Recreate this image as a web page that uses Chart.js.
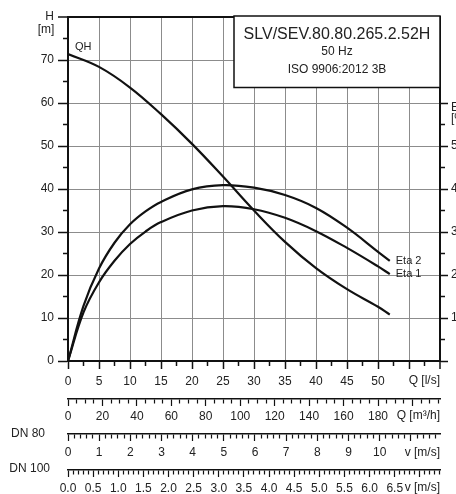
<!DOCTYPE html>
<html>
<head>
<meta charset="utf-8">
<script src="https://cdn.jsdelivr.net/npm/chart.js@4.4.1/dist/chart.umd.min.js"></script>
<style>
html,body{margin:0;padding:0;background:#fff;overflow:hidden}
canvas{display:block}
</style>
</head>
<body>
<canvas id="c" width="456" height="494"></canvas>
<script>
// ---- data ----
const flowQH  = [0, 5, 10, 15, 20, 25, 30, 35, 40, 45, 50, 51.9];
const headQH  = [71.4, 68.4, 63.6, 57.4, 50.5, 42.9, 35.0, 27.7, 21.6, 16.7, 12.6, 10.8];
const flowEta = [0, 2.5, 5, 7.5, 10, 12.5, 15, 20, 25, 30, 35, 40, 45, 50, 51.9];
const eta2    = [0, 12.8, 21.5, 27.5, 31.8, 34.8, 37.0, 39.9, 40.9, 40.3, 38.6, 35.6, 31.0, 25.4, 23.3];
const eta1    = [0, 11.3, 18.3, 23.3, 27.2, 30.1, 32.3, 35.0, 36.0, 35.3, 33.3, 30.2, 26.3, 22.0, 20.2];
const curveNames = ['QH', 'Eta 2', 'Eta 1'];
const titleLines = ['SLV/SEV.80.80.265.2.52H', '50 Hz', 'ISO 9906:2012 3B'];

// tick labels
const qLabels     = [0, 5, 10, 15, 20, 25, 30, 35, 40, 45, 50];
const hLabels     = [0, 10, 20, 30, 40, 50, 60, 70];
const etaLabels   = [10, 20, 30, 40, 50];
const m3hLabels   = [0, 20, 40, 60, 80, 100, 120, 140, 160, 180];
const vDN80Labels = [0, 1, 2, 3, 4, 5, 6, 7, 8, 9, 10];
const vDN100Labels = [0, 0.5, 1, 1.5, 2, 2.5, 3, 3.5, 4, 4.5, 5, 5.5, 6, 6.5];
const unitLabels  = ['Q [l/s]', 'Q [m³/h]', 'v [m/s]', 'DN 80', 'DN 100', 'H', '[m]', 'Eta', '[%]'];

// axis ranges / unit conversions
const flowMaxLs = 60;
const headMax = 80;
const m3hPerLs = 3.6;
const lsPerMsDN80 = Math.PI * 0.04 * 0.04 * 1000;
const lsPerMsDN100 = Math.PI * 0.0508 * 0.0508 * 1000;

// ---- styling helpers ----
const FONT = '"Liberation Sans", Arial, Helvetica, sans-serif';
const INK = '#111';
const TXT = '#222';
const GRID = '#8c8c8c';
const NONE = 'rgba(0,0,0,0)';
const tickFont = {family: FONT, size: 12};
function isMult(v, m) { return Math.abs(v / m - Math.round(v / m)) < 1e-6; }
function inList(list, v) { return list.some(l => Math.abs(l - v) < 1e-6); }

const pts = (xs, ys) => xs.map((x, i) => ({x: x, y: ys[i]}));

const annot = {
  id: 'annot',
  afterDraw(chart) {
    const {ctx, chartArea: a, scales} = chart;
    ctx.save();
    ctx.fillStyle = TXT;
    ctx.textBaseline = 'middle';
    ctx.font = '12px ' + FONT;
    // axis units
    ctx.textAlign = 'center';
    ctx.fillText(unitLabels[6], 46, a.top + 13);
    ctx.textAlign = 'right';
    ctx.fillText(unitLabels[0], a.right, scales.x.top + 20);
    ctx.fillText(unitLabels[1], a.right, scales.x2.top + 17);
    ctx.fillText(unitLabels[2], a.right, scales.x3.top + 19);
    ctx.fillText(unitLabels[2], a.right, scales.x4.top + 18);
    ctx.fillText(unitLabels[3], 45, scales.x3.top);
    ctx.fillText(unitLabels[4], 50, scales.x4.top - 1);
    ctx.textAlign = 'left';
    ctx.fillText(unitLabels[7], a.right + 11, 108);
    ctx.fillText(unitLabels[8], a.right + 11, 119);
    // curve labels
    ctx.font = '11px ' + FONT;
    const qh = chart.getDatasetMeta(0).data;
    const e2 = chart.getDatasetMeta(1).data;
    const e1 = chart.getDatasetMeta(2).data;
    ctx.fillText(curveNames[0], qh[0].x + 7, qh[0].y - 7);
    ctx.fillText(curveNames[1], e2[e2.length - 1].x + 6, e2[e2.length - 1].y);
    ctx.fillText(curveNames[2], e1[e1.length - 1].x + 6, e1[e1.length - 1].y);
    // title box
    const bx = a.right - 206, by = a.top - 1, bw = 206, bh = 71.5;
    ctx.fillStyle = '#fff';
    ctx.fillRect(bx, by, bw, bh);
    ctx.strokeStyle = INK;
    ctx.lineWidth = 1.5;
    ctx.strokeRect(bx, by, bw, bh);
    ctx.fillStyle = TXT;
    ctx.textAlign = 'center';
    const cx = bx + bw / 2;
    ctx.font = '16px ' + FONT;
    ctx.fillText(titleLines[0], cx, by + 19);
    ctx.font = '12px ' + FONT;
    ctx.fillText(titleLines[1], cx, by + 36);
    ctx.fillText(titleLines[2], cx, by + 53.5);
    ctx.restore();
  }
};

const lineStyle = {
  borderColor: INK, borderWidth: 2.2, pointRadius: 0, fill: false, tension: 0.4
};

new Chart(document.getElementById('c'), {
  type: 'line',
  data: {
    datasets: [
      Object.assign({label: curveNames[0], data: pts(flowQH, headQH), xAxisID: 'x', yAxisID: 'y'}, lineStyle),
      Object.assign({label: curveNames[1], data: pts(flowEta, eta2), xAxisID: 'x', yAxisID: 'y2'}, lineStyle),
      Object.assign({label: curveNames[2], data: pts(flowEta, eta1), xAxisID: 'x', yAxisID: 'y2'}, lineStyle)
    ]
  },
  options: {
    responsive: false,
    animation: false,
    devicePixelRatio: 1,
    layout: {padding: {top: 17, left: 0, right: 0, bottom: 0}},
    plugins: {legend: {display: false}, tooltip: {enabled: false}},
    scales: {
      x: {
        type: 'linear', position: 'bottom', min: 0, max: flowMaxLs, weight: 0,
        border: {display: true, color: INK, width: 2},
        grid: {
          color: c => { const v = c.tick.value; if (v >= flowMaxLs) return INK; return (isMult(v, 5) && v > 0) ? GRID : NONE; },
          lineWidth: c => c.tick.value >= flowMaxLs ? 2 : 1,
          tickLength: 8, tickColor: INK, tickWidth: 1.5,
          tickBorderDash: c => isMult(c.tick.value, 5) ? [] : [4, 100]
        },
        ticks: {
          stepSize: 2.5, autoSkip: false, maxRotation: 0, minRotation: 0, padding: 5,
          color: TXT, font: tickFont,
          callback: v => inList(qLabels, v) ? String(v) : ''
        },
        afterFit: s => { s.height = 38; }
      },
      x2: {
        type: 'linear', position: 'bottom', min: 0, max: flowMaxLs * m3hPerLs, weight: 1,
        border: {display: true, color: INK, width: 1.5},
        grid: {
          drawOnChartArea: false, tickLength: 7, tickColor: INK, tickWidth: 1.2,
          tickBorderDash: c => isMult(c.tick.value, 20) ? [] : [4, 100]
        },
        ticks: {
          stepSize: 5, autoSkip: false, maxRotation: 0, minRotation: 0, includeBounds: false, padding: 3,
          color: TXT, font: tickFont,
          callback: v => inList(m3hLabels, v) ? String(Math.round(v)) : ''
        },
        afterFit: s => { s.height = 35; }
      },
      x3: {
        type: 'linear', position: 'bottom', min: 0, max: flowMaxLs / lsPerMsDN80, weight: 2,
        border: {display: true, color: INK, width: 1.5},
        grid: {
          drawOnChartArea: false, tickLength: 7, tickColor: INK, tickWidth: 1.2,
          tickBorderDash: c => isMult(c.tick.value, 1) ? [] : [4, 100]
        },
        ticks: {
          stepSize: 0.2, autoSkip: false, maxRotation: 0, minRotation: 0, includeBounds: false, padding: 4,
          color: TXT, font: tickFont,
          callback: v => inList(vDN80Labels, v) ? String(Math.round(v)) : ''
        },
        afterFit: s => { s.height = 36; }
      },
      x4: {
        type: 'linear', position: 'bottom', min: 0, max: flowMaxLs / lsPerMsDN100, weight: 3,
        border: {display: true, color: INK, width: 1.5},
        grid: {
          drawOnChartArea: false, tickLength: 7, tickColor: INK, tickWidth: 1.2,
          tickBorderDash: c => isMult(c.tick.value, 0.5) ? [] : [4, 100]
        },
        ticks: {
          stepSize: 0.1, autoSkip: false, maxRotation: 0, minRotation: 0, includeBounds: false, padding: 4,
          color: TXT, font: tickFont,
          callback: v => inList(vDN100Labels, v) ? v.toFixed(1) : ''
        },
        afterFit: s => { s.height = 24; }
      },
      y: {
        type: 'linear', position: 'left', min: 0, max: headMax, weight: 0,
        border: {display: true, color: INK, width: 2},
        grid: {
          color: c => { const v = c.tick.value; if (v >= headMax) return INK; return (isMult(v, 10) && v > 0) ? GRID : NONE; },
          lineWidth: c => c.tick.value >= headMax ? 2 : 1,
          tickLength: 10, tickColor: INK, tickWidth: 1.5,
          tickBorderDash: c => isMult(c.tick.value, 10) ? [] : [0, 5, 5, 100]
        },
        ticks: {
          stepSize: 5, padding: 4, color: TXT, font: tickFont,
          callback: v => v >= headMax ? unitLabels[5] : (inList(hLabels, v) ? String(v) : '')
        },
        afterFit: s => { s.width = 68; }
      },
      y2: {
        type: 'linear', position: 'right', min: 0, max: headMax, weight: 0,
        border: {display: true, color: INK, width: 2},
        grid: {
          drawOnChartArea: false, tickLength: 8, tickWidth: 1.5,
          tickColor: c => c.tick.value <= 60 ? INK : NONE,
          tickBorderDash: c => isMult(c.tick.value, 10) ? [] : [4, 100]
        },
        ticks: {
          stepSize: 5, padding: 3, color: TXT, font: tickFont,
          callback: v => inList(etaLabels, v) ? String(v) : ''
        },
        afterFit: s => { s.width = 16; }
      }
    }
  },
  plugins: [annot]
});
</script>
</body>
</html>
